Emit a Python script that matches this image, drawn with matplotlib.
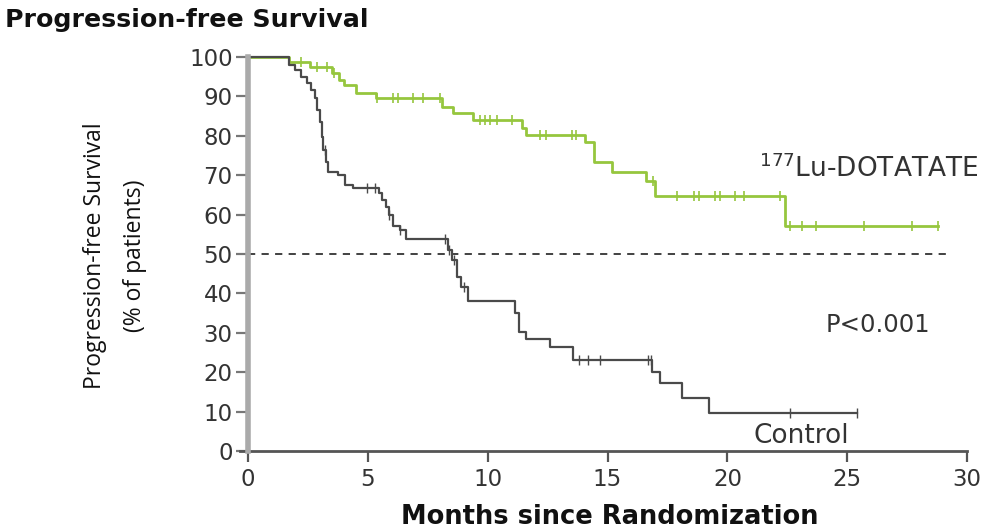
import numpy as np
import matplotlib.pyplot as plt

# 177Lu-DOTATATE arm: step times (months) and survival (%)
lu_t = [0, 1.7, 2.6, 3.5, 3.8, 4.0, 4.5, 5.35, 8.1, 8.55, 9.4, 11.45, 11.6, 14.05,
        14.45, 15.2, 16.6, 17.0, 22.4, 28.8]
lu_s = [100, 98.8, 97.5, 95.9, 94.1, 92.9, 90.8, 89.5, 87.4, 85.7, 84.0, 82.0, 80.2,
        78.5, 73.4, 70.9, 68.4, 64.7, 57.1, 57.1]
lu_cens = [2.2, 2.9, 3.3, 3.6, 5.4, 6.05, 6.25, 6.9, 7.3, 8.0, 9.7, 9.9, 10.1, 10.4,
           11.0, 12.2, 12.45, 13.5, 13.7, 16.9, 17.9, 18.6, 18.8, 19.5, 19.7, 20.3,
           20.7, 22.2, 22.6, 23.1, 23.7, 25.7, 27.7, 28.8]

# Control arm
ct_t = [0, 1.7, 1.96, 2.2, 2.45, 2.65, 2.8, 2.9, 3.0, 3.07, 3.14, 3.25, 3.35, 3.75,
        4.04, 4.4, 5.45, 5.6, 5.75, 5.9, 6.05, 6.33, 6.6, 8.35, 8.5, 8.7, 8.9, 9.2,
        11.15, 11.3, 11.6, 12.6, 13.55, 16.85, 17.2, 18.1, 19.25, 25.4]
ct_s = [100, 98.0, 96.7, 95.0, 93.3, 91.6, 89.5, 86.5, 83.6, 79.8, 76.4, 73.4, 70.9,
        70.0, 67.5, 66.7, 65.5, 63.7, 62.0, 60.0, 57.0, 56.1, 53.7, 51.0, 48.5, 44.2,
        41.7, 38.1, 35.0, 30.3, 28.3, 26.5, 23.1, 20.1, 17.2, 13.4, 9.6, 9.6]
ct_cens = [3.2, 4.95, 5.3, 5.9, 6.35, 8.2, 8.4, 8.6, 9.0, 13.8, 14.2, 14.7, 16.7,
           16.8, 22.6, 25.4]

x_ticks = [0, 5, 10, 15, 20, 25, 30]
y_ticks = list(range(0, 101, 10))

green = '#96c63e'
dark = '#4a4a4a'


def surv_at(times, surv, pts):
    idx = np.searchsorted(times, pts, side='right') - 1
    return np.array(surv)[idx]


fig = plt.figure(figsize=(9.97, 5.32), dpi=100)
ax = fig.add_axes([0.2487, 0.1523, 0.7213, 0.7407])

ax.step(lu_t, lu_s, where='post', color=green, lw=2, clip_on=False, zorder=3)
ax.plot(lu_cens, surv_at(lu_t, lu_s, lu_cens), ls='none', marker='|', ms=7,
        mew=1.2, color=green, clip_on=False, zorder=3)
ax.step(ct_t, ct_s, where='post', color=dark, lw=1.6, clip_on=False, zorder=4)
ax.plot(ct_cens, surv_at(ct_t, ct_s, ct_cens), ls='none', marker='|', ms=7,
        mew=1.0, color=dark, clip_on=False, zorder=4)

ax.axhline(50, xmin=0, xmax=29.1 / 30, color='#333333', lw=1.3, ls=(0, (4, 3.5)))

ax.set_xlim(0, 30)
ax.set_ylim(0, 100)
ax.set_xticks(x_ticks)
ax.set_yticks(y_ticks)

for s in ['top', 'right']:
    ax.spines[s].set_visible(False)
ax.spines['left'].set_color('#aaaaaa')
ax.spines['left'].set_linewidth(4)
ax.spines['left'].set_zorder(5)
ax.spines['bottom'].set_color('#555555')
ax.spines['bottom'].set_linewidth(2)
ax.spines['bottom'].set_bounds(-0.35, 30)

ax.tick_params(axis='y', length=9, width=1.6, color='#777777', labelsize=16.5,
               labelcolor='#333333', pad=2)
ax.tick_params(axis='x', length=8, width=1.6, color='#555555', labelsize=16.5,
               labelcolor='#333333', pad=4)

ax.text(21.3, 71.5, r'$^{177}$Lu-DOTATATE', fontsize=19, color='#333333',
        va='center')
ax.text(24.1, 32, 'P<0.001', fontsize=17.5, color='#333333', va='center')
ax.text(21.1, 3.8, 'Control', fontsize=19, color='#333333', va='center')

fig.text(0.005, 0.962, 'Progression-free Survival', fontsize=18.2,
         fontweight='bold', color='#111111', va='center', ha='left')
fig.text(0.095, 0.52, 'Progression-free Survival', fontsize=16.5, rotation=90,
         ha='center', va='center', family='Open Sans', color='#111111')
fig.text(0.135, 0.52, '(% of patients)', fontsize=16.5, rotation=90,
         ha='center', va='center', family='Open Sans', color='#111111')
fig.text(0.612, 0.028, 'Months since Randomization', fontsize=18.5,
         fontweight='bold', color='#111111', ha='center', va='center')

fig.savefig('out.png', dpi=100)
